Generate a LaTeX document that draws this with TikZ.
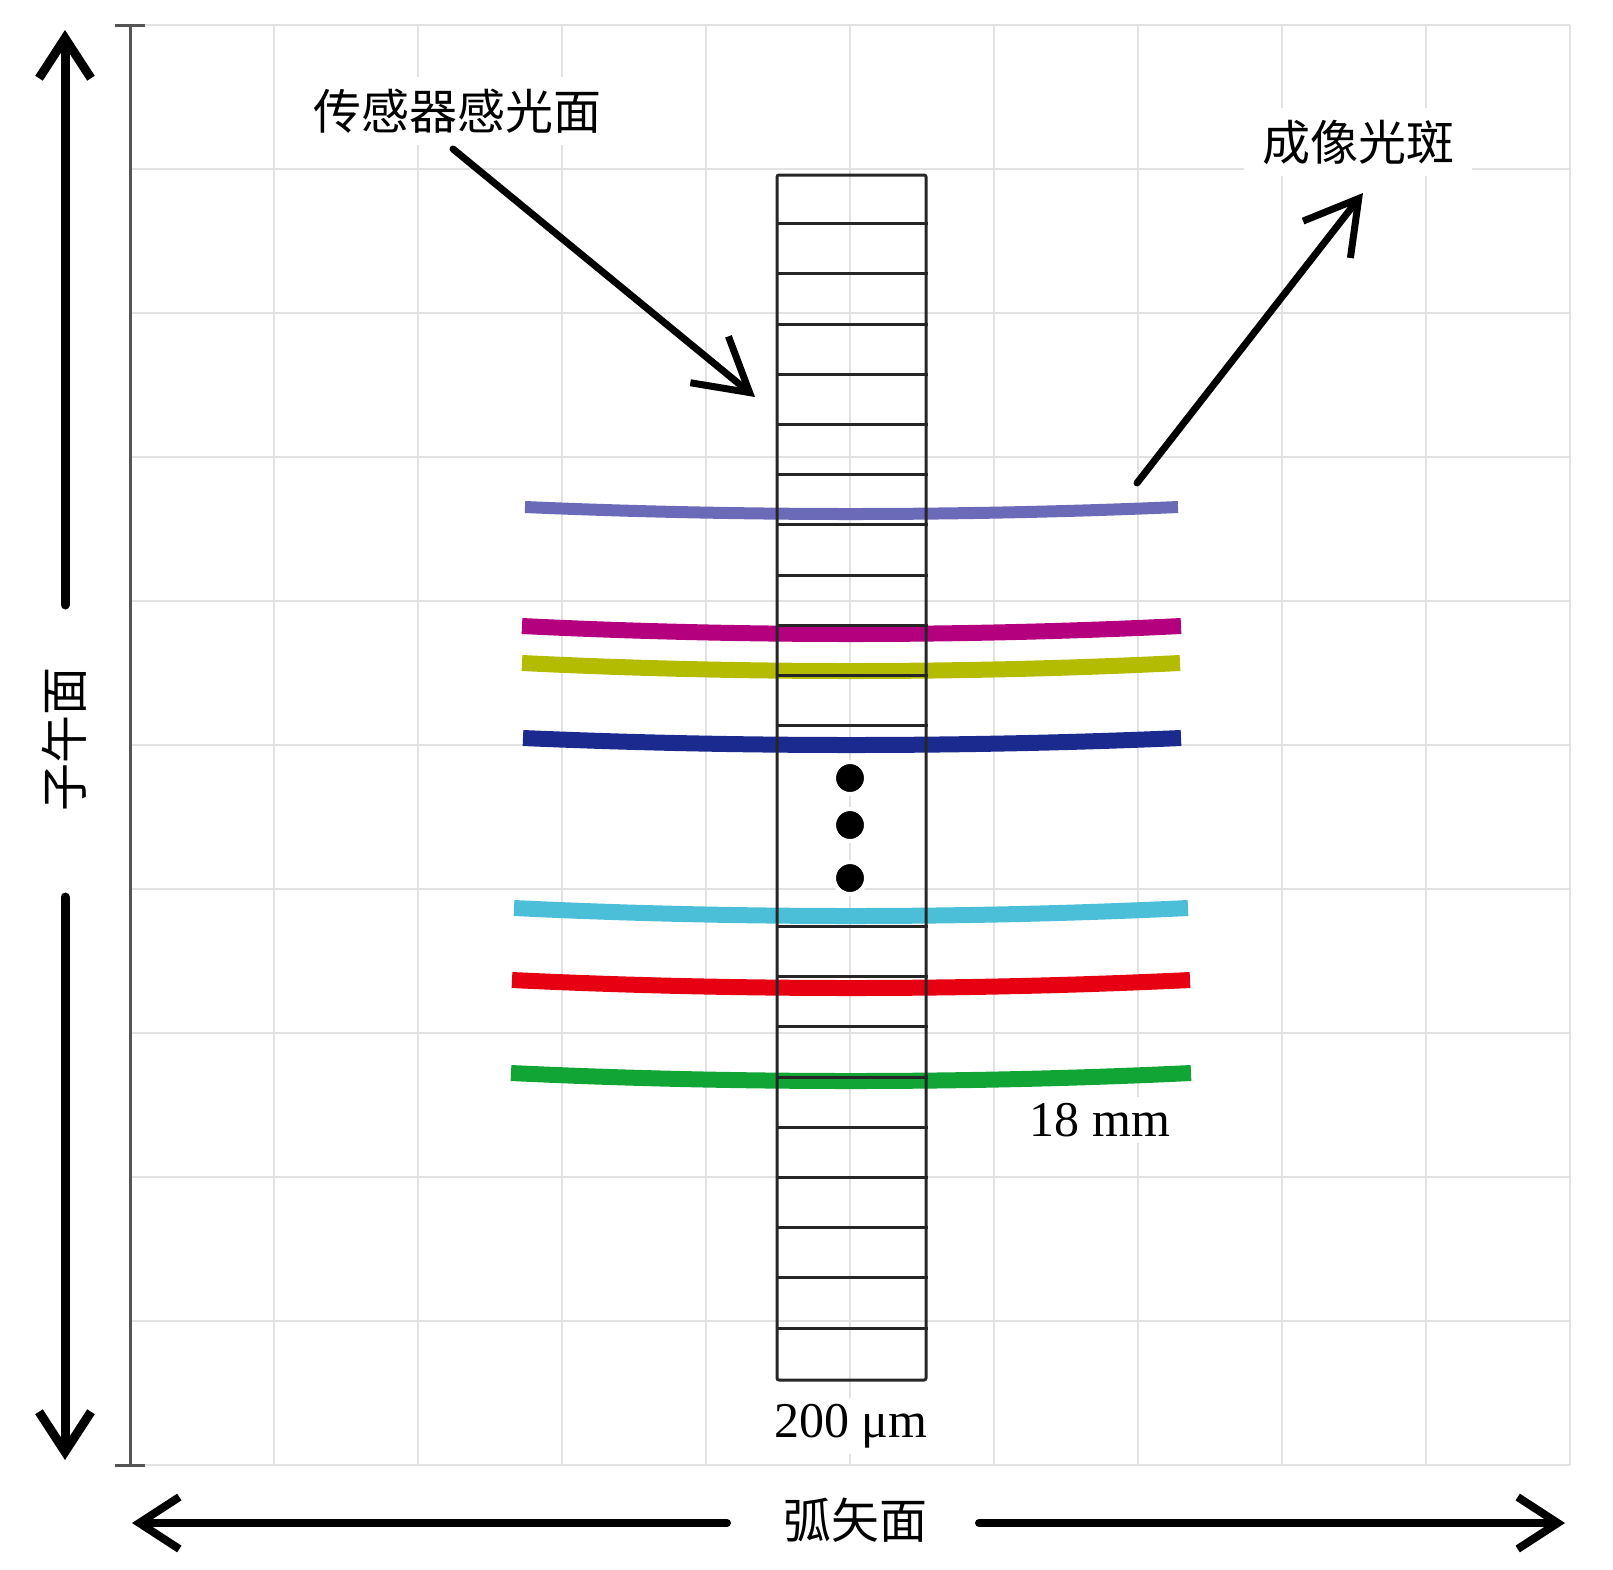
\documentclass[tikz,border=0pt]{standalone}
\usepackage{fontspec}
\setmainfont{Liberation Serif}
\newfontfamily\cjk{Noto Sans CJK SC}
\usepackage{tikz}
\usetikzlibrary{arrows.meta,positioning,calc}

\definecolor{gridgray}{RGB}{226,226,226}
\definecolor{axisgray}{RGB}{85,85,85}
\definecolor{spotlav}{RGB}{106,106,184}
\definecolor{spotmag}{RGB}{180,0,127}
\definecolor{spotolive}{RGB}{179,188,0}
\definecolor{spotnavy}{RGB}{26,42,142}
\definecolor{spotcyan}{RGB}{75,191,216}
\definecolor{spotred}{RGB}{230,0,18}
\definecolor{spotgreen}{RGB}{16,165,53}

\begin{document}
\begin{tikzpicture}[x=1pt, y=-1pt,
    gridline/.style={draw=gridgray, line width=2pt},
    spot/.style={line width=16pt, line cap=butt},
    cell/.style={draw=black!85, line width=3pt},
    dot/.style={circle, fill=black, draw=white, line width=4pt, minimum size=32pt, inner sep=0pt},
    tag/.style={fill=white, inner xsep=18pt, inner ysep=12pt, font=\cjk\fontsize{48}{50}\selectfont},
    numtag/.style={fill=white, inner sep=6pt, font=\fontsize{50}{52}\selectfont},
    axisarrow/.style={-{Straight Barb[length=40pt,width=52pt]}, line width=9pt, line cap=round, line join=round},
    pointer/.style={-{Straight Barb[length=52pt,width=60pt]}, line width=7pt, line cap=round, line join=round}
]
    \useasboundingbox (0,0) rectangle (1613,1569);

    % Background grid (10 x 10)
    \foreach \i in {0,...,10} {
        \draw[gridline] (130+144*\i,25) -- (130+144*\i,1465);
        \draw[gridline] (130,25+144*\i) -- (1570,25+144*\i);
    }

    % Vertical scale bar
    \draw[axisgray, line width=3pt] (130,25) -- (130,1465);
    \draw[axisgray, line width=3pt] (115,25) -- (145,25);
    \draw[axisgray, line width=3pt] (115,1465) -- (145,1465);

    % Image spots (drawn below the sensor)
    \draw[spot, spotlav, line width=12pt] (525,507) parabola bend (851,514) (1178,507);
    \draw[spot, spotmag] (522,626) parabola bend (851,634) (1181,626);
    \draw[spot, spotolive] (522,663) parabola bend (851,671) (1180,663);
    \draw[spot, spotnavy] (523,738) parabola bend (851,745) (1181,738);
    \draw[spot, spotcyan] (514,908) parabola bend (851,916) (1188,908);
    \draw[spot, spotred] (512,980) parabola bend (851,988) (1190,980);
    \draw[spot, spotgreen] (511,1073) parabola bend (851,1081) (1191,1073);

    % Sensor strip
    \node[draw=black!85, line width=3pt, rounded corners=2pt, minimum width=149pt, minimum height=1205pt, inner sep=0pt] (sensor) at (851.5,777.5) {};
    \foreach \k in {1,...,11}
        \draw[cell] ($(sensor.north west)+(0,50.2*\k)$) -- ($(sensor.north east)+(0,50.2*\k)$);
    \foreach \k in {15,...,23}
        \draw[cell] ($(sensor.north west)+(0,50.2*\k)$) -- ($(sensor.north east)+(0,50.2*\k)$);

    % Ellipsis dots
    \node[dot] (dot1) at (850,778) {};
    \node[dot] (dot2) at (850,825) {};
    \node[dot] (dot3) at (850,878) {};

    % Labels
    \node[tag] (senslbl) at (457,111) {传感器感光面};
    \node[tag] (spotlbl) at (1358,142) {成像光斑};
    \node[tag, fill=none, rotate=90] (merid) at (64,739) {子午面};
    \node[tag] (sagit) at (855,1520) {弧矢面};
    \node[numtag, anchor=base] (widthlbl) at (851,1437) {200 μm};
    \node[numtag, anchor=base] (lenlbl) at (1100,1136) {18 mm};

    % Axis arrows
    \coordinate (topend) at (65,605);
    \coordinate (toptip) at (65,30);
    \coordinate (botend) at (65,897);
    \coordinate (bottip) at (65,1460);
    \coordinate (leftend) at (727,1523);
    \coordinate (lefttip) at (132,1523);
    \coordinate (rightend) at (979,1523);
    \coordinate (righttip) at (1565,1523);
    \draw[axisarrow] (topend) -- (toptip);
    \draw[axisarrow] (botend) -- (bottip);
    \draw[axisarrow, line width=8pt] (leftend) -- (lefttip);
    \draw[axisarrow, line width=8pt] (rightend) -- (righttip);

    % Pointers
    \coordinate (sensfrom) at (453,149);
    \coordinate (senstip) at (755,397);
    \coordinate (spotfrom) at (1137,483);
    \coordinate (spottip) at (1363,193);
    \draw[pointer] (sensfrom) -- (senstip);
    \draw[pointer] (spotfrom) -- (spottip);
\end{tikzpicture}
\end{document}
